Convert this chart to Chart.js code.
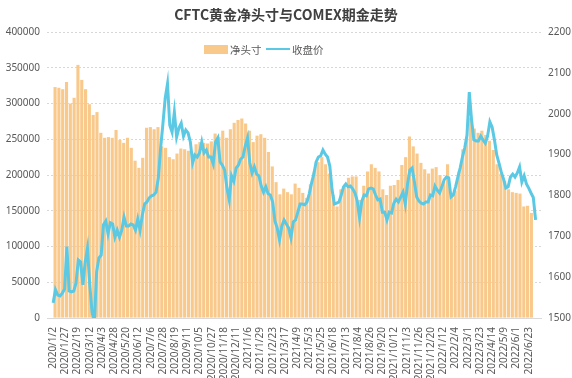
<!DOCTYPE html>
<html>
<head>
<meta charset="utf-8">
<script src="https://cdn.jsdelivr.net/npm/chart.js@4.4.0/dist/chart.umd.min.js"></script>
<style>
  body { margin: 0; background: #fff; }
  #wrap { position: relative; width: 572px; height: 378px; }
  #title { position: absolute; left: 0; top: 4px; width: 572px; text-align: center;
           font: bold 14px "Noto Sans CJK SC", sans-serif; color: #404040; }
  .lg { position: absolute; top: 42px; font: 10.5px "Noto Sans CJK SC", sans-serif; color: #595959; }
  .sw { position: absolute; }
</style>
</head>
<body>
<div id="wrap">
  <canvas id="chart" width="572" height="378"></canvas>
  <div id="title">CFTC黄金净头寸与COMEX期金走势</div>
  <div class="sw" style="left:204px;top:45px;width:24px;height:9px;background:#F9C98B"></div>
  <div class="lg" style="left:230px">净头寸</div>
  <div class="sw" style="left:266px;top:48px;width:24px;height:2px;background:#5BC9E4"></div>
  <div class="lg" style="left:292px">收盘价</div>
</div>
<script>
// x tick labels, one every 16 trading days
const tickLabels = ['2020/1/2', '2020/1/27', '2020/2/19', '2020/3/12', '2020/4/3', '2020/4/28',
  '2020/5/20', '2020/6/12', '2020/7/6', '2020/7/28', '2020/8/19', '2020/9/11', '2020/10/5',
  '2020/10/27', '2020/11/18', '2020/12/11', '2021/1/6', '2021/1/29', '2021/2/23', '2021/3/17',
  '2021/4/9', '2021/5/3', '2021/5/25', '2021/6/18', '2021/7/13', '2021/8/4', '2021/8/26',
  '2021/9/20', '2021/10/12', '2021/11/3', '2021/11/26', '2021/12/20', '2022/1/12', '2022/2/4',
  '2022/3/1', '2022/3/23', '2022/4/14', '2022/5/9', '2022/6/1', '2022/6/23'];

// CFTC net position, weekly
const netPosition = [
  323000, 322000, 320000, 330000, 300000, 308000, 354000, 333000, 320000, 299000,
  284000, 288000, 259000, 252000, 253000, 252000, 263000, 249000, 245000, 252000,
  238000, 220000, 210000, 224000, 266000, 267000, 264000, 267000, 240000, 238000,
  225000, 222000, 230000, 237000, 236000, 234000, 230000, 243000, 246000, 245000,
  244000, 247000, 258000, 253000, 262000, 252000, 264000, 273000, 277000, 279000,
  272000, 262000, 246000, 255000, 257000, 252000, 232000, 212000, 190000, 173000,
  181000, 176000, 173000, 188000, 182000, 175000, 168000, 187000, 205000, 218000,
  225000, 215000, 202000, 172000, 156000, 180000, 186000, 196000, 198000, 198000,
  165000, 185000, 205000, 215000, 210000, 205000, 180000, 172000, 185000, 186000,
  193000, 214000, 225000, 254000, 240000, 230000, 217000, 208000, 202000, 209000,
  211000, 200000, 190000, 215000, 170000, 178000, 205000, 236000, 253000, 280000,
  265000, 259000, 262000, 256000, 248000, 235000, 215000, 202000, 192000, 180000,
  176000, 175000, 174000, 156000, 157000, 147000];

// COMEX gold close, one value every 3 trading days
const closePrice = [
  1537, 1569, 1556, 1554, 1561, 1571, 1675, 1566, 1564, 1566, 1586,
  1642, 1637, 1581, 1637, 1671, 1581, 1515, 1485, 1613, 1647,
  1654, 1728, 1737, 1706, 1733, 1730, 1698, 1715, 1698, 1715,
  1747, 1725, 1725, 1730, 1728, 1715, 1742, 1715, 1752, 1779,
  1784, 1794, 1799, 1801, 1808, 1843, 1916, 1975, 2038, 2073,
  1972, 1955, 2004, 1943, 1965, 1977, 1945, 1960, 1953, 1931,
  1880, 1899, 1894, 1904, 1931, 1904, 1911, 1894, 1894, 1877,
  1931, 1941, 1882, 1874, 1862, 1818, 1789, 1848, 1835, 1867,
  1874, 1889, 1894, 1921, 1941, 1880, 1855, 1870, 1852, 1848,
  1823, 1808, 1821, 1804, 1801, 1784, 1737, 1720, 1691, 1725,
  1740, 1730, 1720, 1696, 1735, 1740, 1759, 1779, 1779, 1777,
  1784, 1804, 1830, 1852, 1882, 1894, 1897, 1911, 1901, 1894,
  1872, 1813, 1779, 1781, 1784, 1801, 1821, 1828, 1821, 1823,
  1816, 1806, 1786, 1745, 1786, 1801, 1799, 1816, 1818, 1816,
  1801, 1789, 1791, 1759, 1759, 1740, 1759, 1757, 1781, 1791,
  1784, 1796, 1808, 1779, 1828, 1862, 1867, 1833, 1796, 1786,
  1781, 1779, 1784, 1784, 1801, 1799, 1823, 1813, 1806, 1821,
  1838, 1845, 1843, 1796, 1801, 1821, 1845, 1867, 1894, 1916,
  1948, 2053, 1985, 1936, 1933, 1933, 1945, 1936, 1928, 1945,
  1980, 1967, 1936, 1899, 1879, 1857, 1840, 1818, 1821, 1845,
  1852, 1845, 1855, 1870, 1833, 1848, 1828, 1818, 1806, 1795, 1740];

const tickFont = { family: 'Noto Sans', size: 10 };
const tickColor = '#595959';

new Chart(document.getElementById('chart'), {
  data: {
    datasets: [
      {
        type: 'bar',
        label: '净头寸',
        data: netPosition.map((v, w) => ({ x: w * 5 + 2.5, y: v })),
        backgroundColor: '#F9C98B',
        barPercentage: 0.82,
        categoryPercentage: 1,
        yAxisID: 'y',
        order: 2
      },
      {
        type: 'line',
        label: '收盘价',
        data: closePrice.map((v, i) => ({ x: i * 3, y: v })),
        borderColor: '#5BC9E4',
        borderWidth: 3,
        pointRadius: 0,
        tension: 0,
        yAxisID: 'y1',
        order: 1
      }
    ]
  },
  options: {
    responsive: false,
    animation: false,
    devicePixelRatio: 1,
    layout: { padding: { top: 32, left: 0, right: 0, bottom: 0 } },
    plugins: {
      legend: { display: false },
      tooltip: { enabled: false }
    },
    scales: {
      x: {
        type: 'linear',
        min: 0,
        max: 632,
        afterBuildTicks: axis => {
          axis.ticks = tickLabels.map((_, k) => ({ value: k * 16 }));
        },
        afterFit: axis => { axis.height = 60; },
        ticks: {
          autoSkip: false,
          minRotation: 90,
          maxRotation: 90,
          padding: 1,
          font: tickFont,
          color: tickColor,
          callback: (v, i) => tickLabels[i]
        },
        grid: { display: false },
        border: { display: true, color: '#d9d9d9' }
      },
      y: {
        position: 'left',
        min: 0,
        max: 400000,
        afterFit: axis => { axis.width = 47; },
        ticks: { stepSize: 50000, padding: 7, font: tickFont, color: tickColor, callback: v => String(v) },
        grid: { color: '#cfcfcf', lineWidth: 0.8, drawTicks: false },
        border: { display: false, dash: [2, 2] }
      },
      y1: {
        position: 'right',
        min: 1500,
        max: 2200,
        afterFit: axis => { axis.width = 31; },
        ticks: { stepSize: 100, padding: 7, font: tickFont, color: tickColor, callback: v => String(v) },
        grid: { drawOnChartArea: false, drawTicks: false },
        border: { display: false }
      }
    }
  }
});
</script>
</body>
</html>
